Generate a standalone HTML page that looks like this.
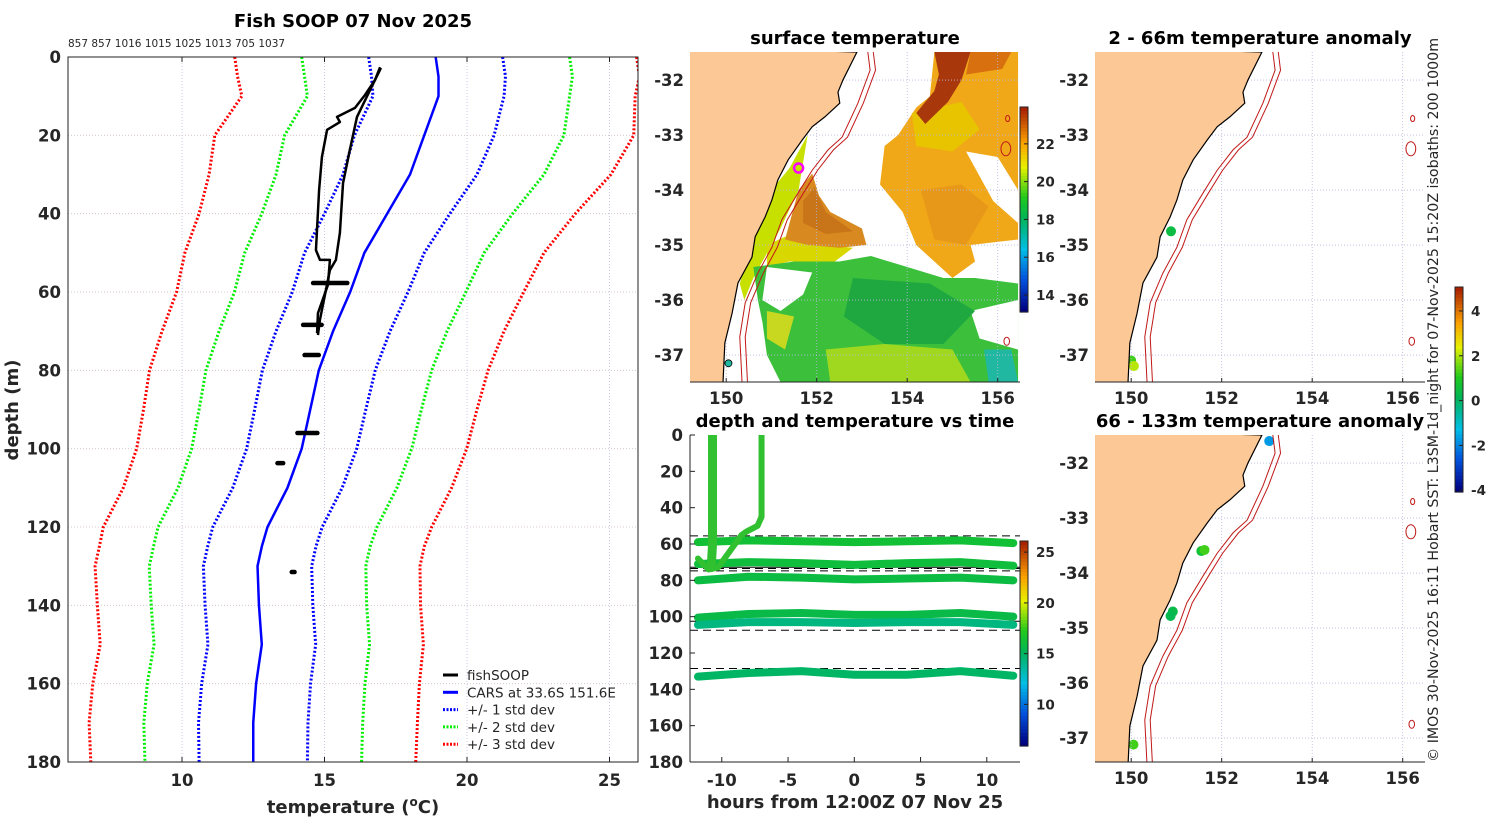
<!DOCTYPE html>
<html><head><meta charset="utf-8"><style>
body{margin:0;background:#fff}
svg{display:block}
text{font-family:"DejaVu Sans","Liberation Sans",sans-serif;fill:#262626}
.tk{font-size:16.5px;font-weight:bold}
.ttl{font-size:18px;font-weight:bold;fill:#000}
.ax{font-size:18px;font-weight:bold}
</style></head><body>
<svg id="fig" width="1500" height="820" viewBox="0 0 1500 820" xmlns="http://www.w3.org/2000/svg">
<defs>
<clipPath id="cMain"><rect x="68" y="57" width="570" height="705"/></clipPath>
<clipPath id="cSST"><rect x="690" y="52" width="330" height="330"/></clipPath>
<clipPath id="cA1"><rect x="1095" y="52" width="330" height="330"/></clipPath>
<clipPath id="cA2"><rect x="1095" y="435" width="330" height="327"/></clipPath>
<clipPath id="cTime"><rect x="690" y="435" width="330" height="327"/></clipPath>
</defs>
<g id="root"></g>
</svg>
<script>
// ---------- data: main profile panel ----------
const depthGrid=[0,5,10,20,30,40,50,60,70,80,90,100,110,120,125,130,140,150,160,170,180];
const carsMean=[18.9,19.0,19.0,18.5,18.0,17.2,16.4,15.9,15.3,14.8,14.5,14.2,13.7,13.0,12.8,12.65,12.7,12.8,12.6,12.5,12.5];
const carsStd=[2.35,2.35,2.3,2.45,2.35,2.2,2.1,2.03,2.0,1.98,1.95,1.93,1.92,1.92,1.9,1.9,1.89,1.89,1.91,1.92,1.9];
const soop1T=[16.95,16.77,16.42,16.07,15.44,15.54,15.09,14.91,14.81,14.70,14.84,15.19,15.12,14.77,14.74];
const soop1D=[2.6,5.9,9.7,13,15.3,16.6,18.6,25.5,34,49.3,51.8,51.8,58.2,65.4,70.5];
const soop2T=[16.98,16.6,16.14,15.89,15.65,15.54,15.40,15.19,14.98,14.84,14.77];
const soop2D=[2.8,8.4,15.3,23.7,32.2,44.9,51.8,54.4,62,67.1,71];
const blobD=[57.7,68.4,76.1,96,103.7,131.5];
const blobTmin=[14.6,14.25,14.3,14.05,13.35,13.85];
const blobTmax=[15.8,14.9,14.8,14.75,13.55,13.95];
const tempTicks=[10,15,20,25];
const depthTicks=[0,20,40,60,80,100,120,140,160,180];
const sondeCounts=["857","857","1016","1015","1025","1013","705","1037"];
// ---------- data: time panel ----------
const bandHours=[-11.8,-8,-4,0,4,8,12];
const bandDepths=[[59,58,58.5,59,58.5,58,59.5],[71,70,70.5,71.5,70.5,70,72],[80,78,78.5,79.5,79,78.5,80],[100.5,98.5,98,99,99,98,100],[104.5,103,103,103.5,103,103,104.5],[133,131,130,132,132,130,132.5]];
const bandTemps=[16.2,16.0,15.8,15.6,14.2,14.8];
const cast1H=[-10.7,-10.7,-10.8];const cast1D=[0,60,73];
const cast2H=[-7,-7,-7.3,-8.1,-8.5,-9.5,-10.3,-11,-11.8];const cast2D=[0,45,50,53,55,65,73,74,68];
const dashDepths=[55.5,73.5,74.8,107.5,128.5];
const solidDepths=[72.8,102.5];
const hourTicks=[-10,-5,0,5,10];
// ---------- data: maps ----------
const coastLon=[152.89,152.58,152.47,152.51,152.18,151.90,151.68,151.37,151.14,151.01,150.86,150.64,150.57,150.26,150.13,149.97,149.93];
const coastLat=[-31.49,-32.0,-32.22,-32.42,-32.67,-32.85,-33.09,-33.45,-33.82,-34.18,-34.49,-34.85,-35.22,-35.69,-36.24,-36.78,-37.49];
const isoLon=[153.13,153.18,152.91,152.56,152.25,151.90,151.59,151.23,151.01,150.70,150.42,150.30,150.35];
const isoLat=[-31.49,-31.82,-32.42,-33.04,-33.27,-33.64,-34.05,-34.54,-35.04,-35.51,-36.05,-36.67,-37.49];
const lonTicks=[150,152,154,156];
const latTicks=[-32,-33,-34,-35,-36,-37];
const sstPatches=[
 {c:"#f0a818",p:[[153.8,-33.0],[154.2,-32.5],[154.5,-32.3],[154.6,-31.49],[156.45,-31.49],[156.45,-35.0],[155.5,-35.3],[155.0,-35.6],[154.6,-35.3],[154.2,-35.0],[153.9,-34.4],[153.4,-33.9],[153.5,-33.2]]},
 {c:"#e8c400",p:[[154.1,-32.6],[155.2,-32.4],[155.6,-32.9],[155.0,-33.3],[154.2,-33.2]]},
 {c:"#e89818",p:[[154.3,-34.0],[155.2,-33.9],[155.8,-34.3],[155.3,-35.0],[154.6,-34.9]]},
 {c:"#a8380c",p:[[154.6,-31.49],[155.4,-31.49],[155.2,-32.0],[154.9,-32.4],[154.4,-32.8],[154.2,-32.6],[154.6,-32.2],[154.7,-31.9]]},
 {c:"#d87010",p:[[155.4,-31.49],[156.3,-31.49],[156.1,-31.8],[155.3,-31.9]]},
 {c:"#ffffff",p:[[155.3,-33.3],[156.0,-33.4],[156.45,-34.0],[156.45,-34.6],[155.9,-34.2]]},
 {c:"#ffffff",p:[[155.4,-35.0],[156.45,-34.9],[156.45,-35.7],[155.6,-35.6]]},
 {c:"#c8e000",p:[[150.9,-34.1],[151.4,-33.6],[151.6,-33.3],[151.8,-33.0],[151.6,-34.0],[151.2,-34.7],[150.8,-35.3],[150.6,-35.6],[150.4,-36.0],[150.3,-35.7],[150.6,-34.9]]},
 {c:"#d8d800",p:[[150.9,-35.0],[151.3,-34.85],[152.2,-35.0],[152.8,-35.05],[152.4,-35.3],[151.4,-35.3],[150.9,-35.4]]},
 {c:"#d88a20",p:[[151.4,-34.6],[151.6,-34.0],[151.9,-33.7],[152.05,-34.1],[152.3,-34.4],[153.0,-34.7],[153.1,-35.0],[152.5,-35.05],[151.8,-35.0],[151.3,-34.9]]},
 {c:"#c87418",p:[[151.7,-34.2],[151.95,-33.95],[152.2,-34.4],[152.8,-34.75],[152.2,-34.8],[151.7,-34.6]]},
 {c:"#3cc03c",p:[[150.6,-35.4],[151.5,-35.3],[152.5,-35.3],[153.2,-35.2],[154.0,-35.4],[154.8,-35.6],[155.5,-35.6],[156.45,-35.7],[156.45,-37.49],[151.2,-37.49],[150.9,-37.0],[150.8,-36.4],[150.7,-36.0]]},
 {c:"#ffffff",p:[[150.9,-35.4],[151.9,-35.5],[151.7,-35.9],[151.2,-36.2],[150.8,-36.0]]},
 {c:"#ffffff",p:[[155.4,-36.2],[156.45,-36.0],[156.45,-36.9],[155.6,-36.7]]},
 {c:"#20a840",p:[[152.8,-35.6],[154.5,-35.7],[155.5,-36.2],[154.8,-36.8],[153.5,-36.8],[152.6,-36.3]]},
 {c:"#a0d820",p:[[152.2,-36.9],[153.5,-36.8],[155.0,-36.9],[155.4,-37.49],[152.3,-37.49]]},
 {c:"#20b8a0",p:[[155.7,-36.9],[156.3,-36.9],[156.45,-37.49],[155.8,-37.49]]},
 {c:"#c8d820",p:[[150.9,-36.2],[151.5,-36.3],[151.3,-36.9],[150.9,-36.7]]}
];
const islandLon=[156.22,156.18,156.2];const islandLat=[-32.7,-33.25,-36.75];const islandR=[3,7,4];
const anom1Lon=[150.88,150.0,150.06];const anom1Lat=[-34.75,-37.1,-37.2];const anom1Val=[0.4,1.2,2.0];
const anom2Lon=[153.05,151.55,151.62,150.92,150.87,150.05];const anom2Lat=[-31.6,-33.6,-33.58,-34.7,-34.78,-37.12];const anom2Val=[-1.8,0.6,1.2,0.3,0.2,1.2];

// ---------- helpers ----------
const NS="http://www.w3.org/2000/svg";
const root=document.getElementById('root');
function el(tag,attrs,parent,txt){const e=document.createElementNS(NS,tag);for(const k in attrs)e.setAttribute(k,attrs[k]);if(txt!==undefined)e.textContent=txt;(parent||root).appendChild(e);return e;}
const jet=[[0,[0,0,128]],[0.15,[0,80,220]],[0.3,[0,190,230]],[0.45,[0,180,90]],[0.55,[30,200,30]],[0.7,[230,240,0]],[0.82,[250,160,0]],[1,[160,20,0]]];
function cmap(t){t=Math.max(0,Math.min(1,t));for(let i=1;i<jet.length;i++){if(t<=jet[i][0]){const a=jet[i-1],b=jet[i];const f=(t-a[0])/(b[0]-a[0]);const c=a[1].map((v,j)=>Math.round(v+(b[1][j]-v)*f));return `rgb(${c})`;}}return 'rgb(160,20,0)';}
function colorbar(x,y,w,h,vmin,vmax,ticks,name){
 const g=el('g',{});
 
 
 const n=60;for(let i=0;i<n;i++){const v0=vmin+(vmax-vmin)*i/n;el('rect',{x:x,y:y+h-(i+1)*h/n,width:w,height:h/n+0.6,fill:cmap((v0-vmin)/(vmax-vmin))},g);}
 el('rect',{x:x,y:y,width:w,height:h,fill:'none',stroke:'#222','stroke-width':1},g);
 ticks.forEach(t=>{const yy=y+h-(t-vmin)/(vmax-vmin)*h;el('line',{x1:x+w-4,x2:x+w,y1:yy,y2:yy,stroke:'#222'},g);const lb=el('text',{x:x+w+8,y:yy+5,'font-weight':'bold'},g,String(t));lb.setAttribute('style','font-size:13.5px');});
}

// ---------- main panel ----------
const tx=t=>68+(t-6)*28.5, dy=d=>57+d*705/180;
{
const g=el('g',{});


el('text',{x:353,y:27,'text-anchor':'middle',class:'ttl'},g,'Fish SOOP 07 Nov 2025');
el('text',{x:68,y:47,'font-size':'10.5'},g,sondeCounts.join(' '));
tempTicks.forEach(t=>{el('line',{x1:tx(t),x2:tx(t),y1:57,y2:762,stroke:'#c8c8e8','stroke-dasharray':'1 2'},g);el('line',{x1:tx(t),x2:tx(t),y1:57,y2:62,stroke:'#222'},g);el('line',{x1:tx(t),x2:tx(t),y1:757,y2:762,stroke:'#222'},g);el('text',{x:tx(t),y:786,'text-anchor':'middle',class:'tk'},g,String(t));});
depthTicks.forEach(d=>{el('line',{x1:68,x2:638,y1:dy(d),y2:dy(d),stroke:'#d8c8c8','stroke-dasharray':'1 2'},g);el('text',{x:61,y:dy(d)+6,'text-anchor':'end',class:'tk'},g,String(d));});
const pc=el('g',{'clip-path':'url(#cMain)'},g);
const sd=[[3,'#ff0000','3sd'],[2,'#00ee00','2sd'],[1,'#0000ff','1sd']];
sd.forEach(([k,c,n])=>{[-1,1].forEach(s=>{const p=el('polyline',{points:depthGrid.map((d,i)=>tx(carsMean[i]+s*k*carsStd[i])+','+dy(d)).join(' '),fill:'none',stroke:c,'stroke-width':3,'stroke-dasharray':'2 2'},pc);});});
const m=el('polyline',{points:depthGrid.map((d,i)=>tx(carsMean[i])+','+dy(d)).join(' '),fill:'none',stroke:'#0000ff','stroke-width':2.5},pc);


[[soop1T,soop1D],[soop2T,soop2D]].forEach(([T,D],k)=>{const p=el('polyline',{points:T.map((t,i)=>tx(t)+','+dy(D[i])).join(' '),fill:'none',stroke:'#000','stroke-width':2.5,'stroke-linejoin':'round'},pc);});
blobD.forEach((d,i)=>{const b=el('line',{x1:tx(blobTmin[i]),x2:tx(blobTmax[i]),y1:dy(d),y2:dy(d),stroke:'#000','stroke-width':4.5,'stroke-linecap':'round'},pc);});
el('rect',{x:68,y:57,width:570,height:705,fill:'none',stroke:'#222','stroke-width':1},g);
el('text',{x:0,y:0,class:'ax',transform:'translate(18,410) rotate(-90)','text-anchor':'middle'},g,'depth (m)');
const xl=el('text',{x:353,y:813,'text-anchor':'middle',class:'ax'},g);xl.innerHTML='temperature (<tspan dy="-7" font-size="12">o</tspan><tspan dy="7">C)</tspan>';
const lg=el('g',{},g);
const L=[['fishSOOP','#000',''],['CARS at 33.6S 151.6E','#0000ff',''],['+/- 1 std dev','#0000ff','2 1.5'],['+/- 2 std dev','#00ee00','2 1.5'],['+/- 3 std dev','#ff0000','2 1.5']];
L.forEach((r,i)=>{const y=675+i*17.3;el('line',{x1:443,x2:458,y1:y,y2:y,stroke:r[1],'stroke-width':3,'stroke-dasharray':r[2]},lg);el('text',{x:467,y:y+5,'font-size':'13.5','fill':'#000'},lg,r[0]);});
}

// ---------- maps ----------
function mapPanel(X0,Y0,H,clip,title,titleX,titleY,name,drawContent){
 const g=el('g',{});
 
 
 el('text',{x:titleX,y:titleY,'text-anchor':'middle',class:'ttl'},g,title);
 const lx=lon=>X0+(lon-149.2)*45.25, ly=lat=>Y0+(-31.49-lat)*55;
 const c=el('g',{'clip-path':'url(#'+clip+')'},g);
 drawContent(c,lx,ly);
 lonTicks.forEach(l=>{el('line',{x1:lx(l),x2:lx(l),y1:Y0,y2:Y0+H,stroke:'#b8b8e0','stroke-dasharray':'1 2','stroke-width':0.8},c);el('text',{x:lx(l),y:Y0+H+22,'text-anchor':'middle',class:'tk'},g,String(l));el('line',{x1:lx(l),x2:lx(l),y1:Y0+H,y2:Y0+H-4,stroke:'#222'},g);});
 latTicks.forEach(l=>{el('line',{x1:X0,x2:X0+330,y1:ly(l),y2:ly(l),stroke:'#b8b8e0','stroke-dasharray':'1 2','stroke-width':0.8},c);el('text',{x:X0-6,y:ly(l)+6,'text-anchor':'end',class:'tk'},g,String(l));});
 const land=el('polygon',{points:coastLon.map((l,i)=>lx(l)+','+ly(coastLat[i])).join(' ')+` ${lx(149.0)},${ly(-37.6)} ${lx(149.0)},${ly(-31.4)}`,fill:'#fbc896',stroke:'#000','stroke-width':1.2},c);
 
 
 [0,0.12].forEach((o,k)=>{const iso=el('polyline',{points:isoLon.map((l,i)=>lx(l+o)+','+ly(isoLat[i])).join(' '),fill:'none',stroke:'#c01818','stroke-width':1},c);});
 islandLon.forEach((l,i)=>{const is=el('ellipse',{cx:lx(l),cy:ly(islandLat[i]),rx:islandR[i]*0.7,ry:islandR[i],fill:'none',stroke:'#c01818','stroke-width':1},c);});
 el('line',{x1:X0,x2:X0+330,y1:Y0+H,y2:Y0+H,stroke:'#222'},g);
 return {g,c,lx,ly};
}
mapPanel(690,52,330,'cSST','surface temperature',855,44,'sst-map',(c,lx,ly)=>{
 sstPatches.forEach((s,i)=>{const p=el('polygon',{points:s.p.map(q=>lx(q[0])+','+ly(q[1])).join(' '),fill:s.c},c);});
});
{const lx=lon=>690+(lon-149.2)*45.25, ly=lat=>52+(-31.49-lat)*55;
const mk=el('circle',{cx:lx(151.6),cy:ly(-33.6),r:4.5,fill:'none',stroke:'#ff00ff','stroke-width':2.5});


const td=el('circle',{cx:lx(150.05),cy:ly(-37.15),r:3.5,fill:'#20b8a0',stroke:'#000','stroke-width':0.8});

}
colorbar(1020,107,8,205,13.1,23.95,[14,16,18,20,22],'sst-colorbar');

const aMin=-4.08,aMax=5.07;
mapPanel(1095,52,330,'cA1','2 - 66m temperature anomaly',1260,44,'anomaly-map-shallow',(c,lx,ly)=>{
 anom1Lon.forEach((l,i)=>{const d=el('circle',{cx:lx(l),cy:ly(anom1Lat[i]),r:5,fill:cmap((anom1Val[i]-aMin)/(aMax-aMin))},c);});
});
mapPanel(1095,435,327,'cA2','66 - 133m temperature anomaly',1260,427,'anomaly-map-deep',(c,lx,ly)=>{
 anom2Lon.forEach((l,i)=>{const d=el('circle',{cx:lx(l),cy:ly(anom2Lat[i]),r:5,fill:cmap((anom2Val[i]-aMin)/(aMax-aMin))},c);});
});
colorbar(1455,287,8,205,aMin,aMax,[-4,-2,0,2,4],'anomaly-colorbar');
{const t=el('text',{x:0,y:0,transform:'translate(1438,762) rotate(-90)','font-size':'14.2','fill':'#111'},root,'© IMOS 30-Nov-2025 16:11 Hobart SST: L3SM-1d_night for 07-Nov-2025 15:20Z isobaths: 200  1000m');

}

// ---------- time panel ----------
{
const hx=h=>690+(h+12.4)*13.25, ty=d=>435+d*327/180;
const tMin=5.9,tMax=26.1;
const g=el('g',{});


el('text',{x:855,y:427,'text-anchor':'middle',class:'ttl'},g,'depth and temperature vs time');
const c=el('g',{'clip-path':'url(#cTime)'},g);
dashDepths.forEach(d=>el('line',{x1:690,x2:1020,y1:ty(d),y2:ty(d),stroke:'#000','stroke-dasharray':'8 5'},c));
solidDepths.forEach(d=>el('line',{x1:690,x2:1020,y1:ty(d),y2:ty(d),stroke:'#000','stroke-width':1},c));
bandDepths.forEach((B,k)=>{const p=el('polyline',{points:bandHours.map((h,i)=>hx(h)+','+ty(B[i])).join(' '),fill:'none',stroke:cmap((bandTemps[k]-tMin)/(tMax-tMin)),'stroke-width':8,'stroke-linecap':'round','stroke-linejoin':'round'},c);});
[[cast1H,cast1D,9],[cast2H,cast2D,6]].forEach(([H,D,w])=>{const p=el('polyline',{points:H.map((h,i)=>hx(h)+','+ty(D[i])).join(' '),fill:'none',stroke:'#30c030','stroke-width':w,'stroke-linecap':'round','stroke-linejoin':'round'},c);});
depthTicks.forEach(d=>{el('line',{x1:690,x2:695,y1:ty(d),y2:ty(d),stroke:'#222'},g);el('text',{x:683,y:ty(d)+6,'text-anchor':'end',class:'tk'},g,String(d));});
hourTicks.forEach(h=>{el('line',{x1:hx(h),x2:hx(h),y1:762,y2:757,stroke:'#222'},g);el('text',{x:hx(h),y:786,'text-anchor':'middle',class:'tk'},g,String(h));});
el('line',{x1:690,x2:690,y1:435,y2:762,stroke:'#222'},g);
el('line',{x1:690,x2:1020,y1:762,y2:762,stroke:'#222'},g);
el('text',{x:855,y:808,'text-anchor':'middle',class:'ax'},g,'hours from 12:00Z 07 Nov 25');
colorbar(1020,541,8,205,tMin,tMax,[10,15,20,25],'time-colorbar');
}
</script>
</body></html>
